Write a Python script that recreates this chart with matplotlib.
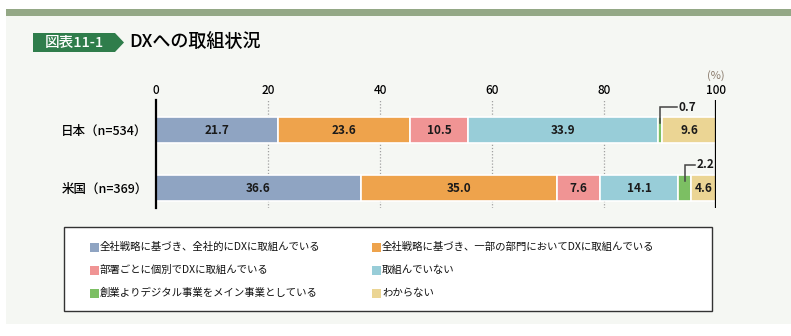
import matplotlib
matplotlib.use("Agg")
import matplotlib.pyplot as plt
from matplotlib.patches import Rectangle, Polygon
import numpy as np

plt.rcParams['font.family'] = ['Noto Sans CJK JP', 'DejaVu Sans']

# data
groups = ['日本（n=534）', '米国（n=369）']
categories = [
    '全社戦略に基づき、全社的にDXに取組んでいる',
    '全社戦略に基づき、一部の部門においてDXに取組んでいる',
    '部署ごとに個別でDXに取組んでいる',
    '取組んでいない',
    '創業よりデジタル事業をメイン事業としている',
    'わからない',
]
japan = [21.7, 23.6, 10.5, 33.9, 0.7, 9.6]
usa = [36.6, 35.0, 7.6, 14.1, 2.2, 4.6]
colors = ['#8fa4c2', '#eea34c', '#f09494', '#98cdd8', '#7cbf63', '#ebd594']
xticks = [0, 20, 40, 60, 80, 100]

W, H = 791, 336
def fx(px):
    return px / W
def fy(py):
    return 1 - py / H

fig = plt.figure(figsize=(W / 100, H / 100), dpi=100)
fig.patch.set_facecolor('white')

# background panel + top band
fig.patches.append(Rectangle((fx(6), fy(324)), 1 - fx(6), (324 - 9) / H,
                             transform=fig.transFigure, fc='#f5f7f3', ec='none', zorder=-3))
fig.patches.append(Rectangle((fx(6), fy(16)), 1 - fx(6), 7 / H,
                             transform=fig.transFigure, fc='#94a886', ec='none', zorder=-2))

# title tag
tag = [(33, 33), (115, 33), (124, 42.5), (115, 52), (33, 52)]
fig.patches.append(Polygon([(fx(a), fy(b)) for a, b in tag], closed=True,
                           transform=fig.transFigure, fc='#2f7d4b', ec='none', zorder=2))
fig.text(fx(74), fy(42.5), '図表11-1', color='white', fontsize=10.5,
         fontweight='medium', ha='center', va='center', zorder=3)
fig.text(fx(129), fy(43), 'DXへの取組状況', color='black', fontsize=13,
         fontweight='medium', ha='left', va='center', zorder=3)

# main axes
ax = fig.add_axes([fx(156), fy(208), (716 - 156) / W, (208 - 100) / H])
ax.set_zorder(5)
ax.set_facecolor('none')
ax.set_xlim(0, 100)
ax.set_ylim(1 + 20 / 58, -30 / 58)

data = np.array([japan, usa])
ypos = np.arange(len(groups))
bh = 26 / 58
left = np.zeros(len(groups))
for j in range(len(categories)):
    vals = data[:, j]
    ax.barh(ypos, vals, left=left, height=bh, color=colors[j],
            edgecolor='white', linewidth=1.2, zorder=2)
    for i in range(len(groups)):
        cx = left[i] + vals[i] / 2
        if vals[i] >= 3:
            ax.text(cx, ypos[i], f'{vals[i]:.1f}', ha='center', va='center',
                    fontsize=8.5, fontweight='bold', color='#1a1a1a', zorder=4)
        else:
            # leader line for small segments
            ytop = ypos[i] - bh / 2 - 10 / 58
            x_end = cx + (3.0 if vals[i] < 1 else 1.9)
            ax.plot([cx, cx, x_end], [ypos[i] - 0.12, ytop, ytop],
                    color='#444444', lw=1.1, zorder=5, clip_on=False,
                    solid_joinstyle='miter')
            ax.text(x_end + 0.3, ytop, f'{vals[i]:.1f}', ha='left', va='center',
                    fontsize=8.5, fontweight='bold', color='#1a1a1a', zorder=5)
    left = left + vals

for v in xticks[1:-1]:
    ax.axvline(v, color='#a0a0a0', ls=(0, (1, 1.5)), lw=0.9, zorder=0)
ax.axvline(100, color='black', lw=1.6, zorder=3)

for s in ['top', 'right', 'bottom']:
    ax.spines[s].set_visible(False)
ax.spines['left'].set_color('black')
ax.spines['left'].set_linewidth(1.6)
ax.spines['left'].set_zorder(3)

ax.xaxis.tick_top()
ax.set_xticks(xticks)
ax.set_xticklabels([str(t) for t in xticks], fontsize=8.5, fontweight='medium')
ax.tick_params(axis='x', length=0, pad=2)
ax.set_yticks(ypos)
ax.set_yticklabels(groups, fontsize=9, fontweight='medium')
ax.tick_params(axis='y', length=0, pad=6)

fig.text(fx(716), fy(76), '(%)', color='#8a7b6c', fontsize=8, ha='center', va='center')

# legend box
fig.patches.append(Rectangle((fx(64), fy(311)), (712 - 64) / W, (311 - 227) / H,
                             transform=fig.transFigure, fc='white', ec='#333333',
                             lw=1.0, zorder=2))
col_x = [90, 372]
row_y = [247, 270, 293]
sq = 9
for k, (lab, c) in enumerate(zip(categories, colors)):
    x0 = col_x[k % 2]
    y0 = row_y[k // 2]
    fig.patches.append(Rectangle((fx(x0), fy(y0 + sq / 2)), sq / W, sq / H,
                                 transform=fig.transFigure, fc=c, ec='none', zorder=3))
    fig.text(fx(x0 + sq + 1), fy(y0), lab, fontsize=7.5, ha='left', va='center',
             color='#111111', zorder=4)

fig.savefig('out.png', dpi=100)
